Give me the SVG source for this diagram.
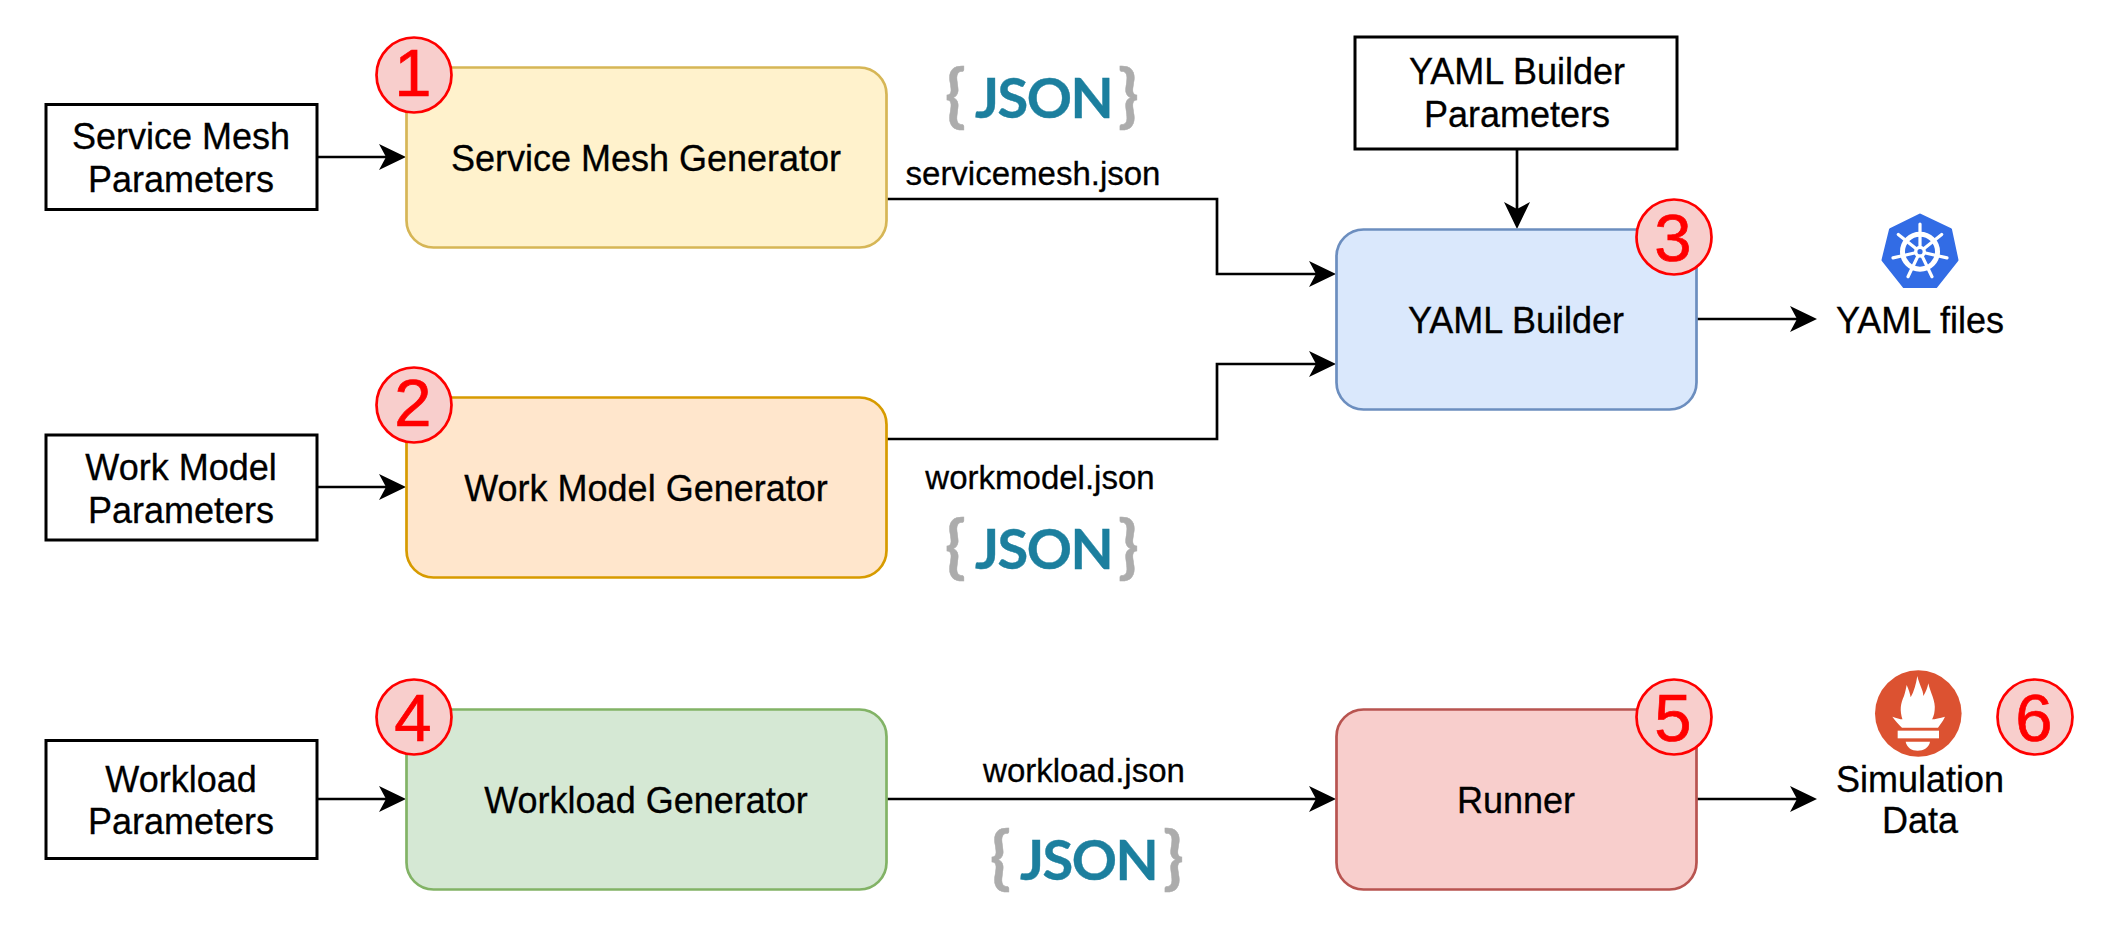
<svg xmlns="http://www.w3.org/2000/svg" width="2118" height="939" viewBox="0 0 2118 939">
<style>
text{font-family:"Liberation Sans",Arial,sans-serif;fill:#000;text-anchor:middle;stroke:#000;stroke-width:.3}
.t{font-size:36px}
.f{font-size:33px}
.n{font-size:67px;fill:#f00;stroke:#f00;stroke-width:.7}
.p{fill:#fff;stroke:#000;stroke-width:3}
.b{stroke-width:2.7}
.c{fill:#f8cecc;stroke:#f00;stroke-width:2.7}
.e{fill:none;stroke:#000;stroke-width:2.7}
.j{font-family:Lato,"Open Sans",sans-serif;font-weight:700;font-size:56px;fill:#1c7f9e;stroke:#1c7f9e;stroke-width:.4;letter-spacing:-1.5px;text-anchor:start}
.k{font-family:Lato,"Open Sans",sans-serif;font-weight:700;font-size:68px;fill:#acacac;stroke:#acacac;stroke-width:.5}
</style>
<defs>
<marker id="a" markerUnits="userSpaceOnUse" markerWidth="30" markerHeight="30" refX="19" refY="15" orient="auto" overflow="visible"><path d="M0,2L27,15L0,28L7,15Z" fill="#000"/></marker>
</defs>
<g id="connectors">
<path class="e" marker-end="url(#a)" d="M317,157H398"/>
<path class="e" marker-end="url(#a)" d="M317,487H398"/>
<path class="e" marker-end="url(#a)" d="M317,799H398"/>
<path class="e" marker-end="url(#a)" d="M887,199H1217V274H1328"/>
<path class="e" marker-end="url(#a)" d="M887,439H1217V364H1328"/>
<path class="e" marker-end="url(#a)" d="M1517,149V221"/>
<path class="e" marker-end="url(#a)" d="M1697,319H1809"/>
<path class="e" marker-end="url(#a)" d="M887,799H1328"/>
<path class="e" marker-end="url(#a)" d="M1697,799H1809"/>
</g>
<g id="service-mesh-parameters"><rect class="p" x="46" y="104.500" width="271" height="105"/><text class="t" x="181" y="149">Service Mesh</text><text class="t" x="181" y="192">Parameters</text></g>
<g id="work-model-parameters"><rect class="p" x="46" y="435" width="271" height="105"/><text class="t" x="181" y="480">Work Model</text><text class="t" x="181" y="523">Parameters</text></g>
<g id="workload-parameters"><rect class="p" x="46" y="740.500" width="271" height="118"/><text class="t" x="181" y="792">Workload</text><text class="t" x="181" y="834">Parameters</text></g>
<g id="yaml-builder-parameters"><rect class="p" x="1355" y="37" width="322" height="112"/><text class="t" x="1517" y="84">YAML Builder</text><text class="t" x="1517" y="127">Parameters</text></g>
<g id="service-mesh-generator"><rect class="b" x="406.500" y="67.500" width="480" height="180" rx="27" fill="#fff2cc" stroke="#d6b656"/><text class="t" x="646" y="171">Service Mesh Generator</text></g>
<g id="work-model-generator"><rect class="b" x="406.500" y="397.500" width="480" height="180" rx="27" fill="#ffe6cc" stroke="#d79b00"/><text class="t" x="646" y="501">Work Model Generator</text></g>
<g id="workload-generator"><rect class="b" x="406.500" y="709.500" width="480" height="180" rx="27" fill="#d5e8d4" stroke="#82b366"/><text class="t" x="646" y="813">Workload Generator</text></g>
<g id="yaml-builder"><rect class="b" x="1336.500" y="229.500" width="360" height="180" rx="27" fill="#dae8fc" stroke="#6c8ebf"/><text class="t" x="1516" y="333">YAML Builder</text></g>
<g id="runner"><rect class="b" x="1336.500" y="709.500" width="360" height="180" rx="27" fill="#f8cecc" stroke="#b85450"/><text class="t" x="1516" y="813">Runner</text></g>
<g id="badge-1"><circle class="c" cx="414" cy="75" r="37.500"/><text class="n" x="413" y="96">1</text></g>
<g id="badge-2"><circle class="c" cx="414" cy="405" r="37.500"/><text class="n" x="413" y="426">2</text></g>
<g id="badge-3"><circle class="c" cx="1674" cy="237" r="37.500"/><text class="n" x="1673" y="261">3</text></g>
<g id="badge-4"><circle class="c" cx="414" cy="717" r="37.500"/><text class="n" x="413" y="741">4</text></g>
<g id="badge-5"><circle class="c" cx="1674" cy="717" r="37.500"/><text class="n" x="1673" y="741">5</text></g>
<g id="badge-6"><circle class="c" cx="2035" cy="717" r="37.500"/><text class="n" x="2034" y="741">6</text></g>
<g id="json-1"><text><tspan class="k" x="955.500" y="119">{</tspan><tspan class="j" x="975" y="118">JSON</tspan><tspan class="k" x="1128.500" y="119">}</tspan></text></g>
<g id="json-2"><text><tspan class="k" x="955.500" y="569.500">{</tspan><tspan class="j" x="975" y="568.500">JSON</tspan><tspan class="k" x="1128.500" y="569.500">}</tspan></text></g>
<g id="json-3"><text><tspan class="k" x="1000.500" y="881">{</tspan><tspan class="j" x="1020" y="880">JSON</tspan><tspan class="k" x="1173.500" y="881">}</tspan></text></g>
<g id="edge-labels"><text class="f" x="1033" y="185">servicemesh.json</text><text class="f" x="1040" y="489">workmodel.json</text><text class="f" x="1084" y="782">workload.json</text></g>
<g id="yaml-files">
<path fill="#326ce5" stroke="#326ce5" stroke-width="3" stroke-linejoin="round" d="M1920,215L1950.500,229.500L1957,260L1936,286.500H1904L1883,260L1890.500,229.500Z"/>
<g fill="none" stroke="#fff" stroke-linecap="round">
<circle cx="1920" cy="251.700" r="17.500" stroke-width="5"/>
<circle cx="1920" cy="251.700" r="4.500" stroke-width="3"/>
<path stroke-width="3.200" d="M1920,251.700V224M1920,251.700L1941.700,234.400M1920,251.700L1947,257.900M1920,251.700L1932,276.700M1920,251.700L1908,276.700M1920,251.700L1893,257.900M1920,251.700L1898.300,234.400"/>
</g>
<circle cx="1920" cy="251.700" r="2.600" fill="#326ce5"/>
<text class="t" x="1920" y="333">YAML files</text>
</g>
<g id="simulation-data">
<circle cx="1918.300" cy="713.500" r="43.300" fill="#dc5231"/>
<g transform="translate(1860,660) scale(.33333)" fill="#fff">
<path d="M128,180C118,150 122,130 132,108C136,95 138,85 140,75C146,88 150,100 152,112C162,95 168,72 172,48C178,75 190,90 190,108C198,95 203,82 205,70C210,95 228,125 224,150C223,165 218,175 215,180Z"/>
<path d="M97,170C110,174 118,178 130,178L215,178C225,178 240,174 255,170C248,185 240,195 234,203L126,203C118,195 105,182 97,170Z"/>
<rect x="113" y="212" width="124" height="23"/>
<path d="M137,245H210C208,262 190,272 173,272C155,272 140,262 137,245Z"/>
</g>
<text class="t" x="1920" y="792">Simulation</text><text class="t" x="1920" y="833">Data</text>
</g>
</svg>
